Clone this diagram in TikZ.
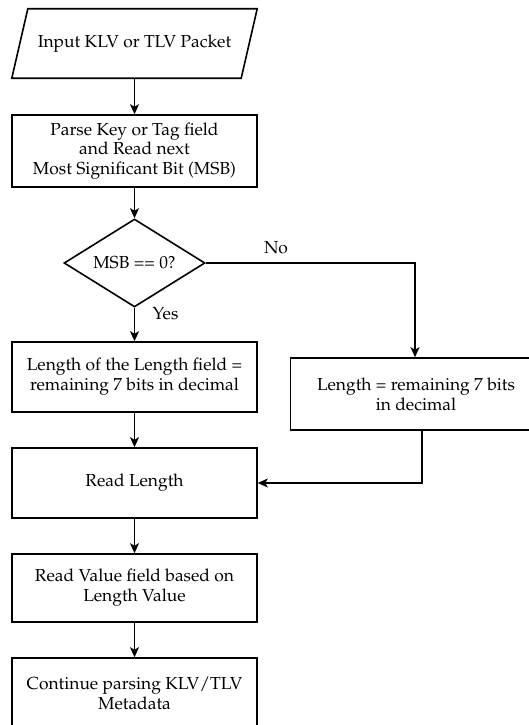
\documentclass[tikz,border=0pt]{standalone}
\IfFileExists{mathpazo.sty}
  {\usepackage[T1]{fontenc}\usepackage{mathpazo}}
  {\usepackage{fontspec}\setmainfont{Liberation Serif}}
\usetikzlibrary{shapes.geometric,arrows.meta,calc}
\begin{document}
\begin{tikzpicture}[x=1pt,y=1pt,
  every node/.style={font=\fontsize{17.4}{19.8}\selectfont},
  procbox/.style={draw,line width=1.6pt,rectangle,minimum width=245,minimum height=70,
    align=center,inner sep=0pt},
  iobox/.style={rectangle,minimum width=229,minimum height=69,align=center,inner sep=0pt},
  decision/.style={draw,line width=1.6pt,diamond,aspect=1.6,minimum width=141,
    minimum height=88,inner sep=0pt},
  flow/.style={line width=1.6pt,-{Stealth[length=10pt,width=9pt,inset=2.5pt]}},
  lbl/.style={inner sep=0pt}]
\useasboundingbox (0,0) rectangle (529,-725);
\clip (0,0) rectangle (529,-725);

% input parallelogram
\node[iobox] (in) at (134.5,-43.5) {Input KLV or TLV Packet};
\draw[line width=1.6pt] ($(in.north west)+(8,0)$) -- ($(in.north east)+(8,0)$)
  -- ($(in.south east)+(-8,0)$) -- ($(in.south west)+(-8,0)$) -- cycle;

\node[procbox,minimum height=72] (parse) at (134.5,-151)
  {Parse Key or Tag field\\and Read next\\Most Significant Bit (MSB)};
\node[decision] (msb) at (134.5,-263) {MSB == 0?};
\node[procbox] (lenlen) at (134.5,-377)
  {Length of the Length field =\\remaining 7 bits in decimal};
\node[procbox,minimum width=251,minimum height=72] (len7) at (416,-394)
  {Length = remaining 7 bits\\in decimal};
\node[procbox] (readlen) at (134.5,-483) {Read Length};
\node[procbox,minimum height=68] (readval) at (134.5,-588)
  {Read Value field based on\\Length Value};
\node[procbox] (cont) at (134.5,-693)
  {Continue parsing KLV/TLV\\Metadata};

% connectors
\draw[flow] (in.south) -- (parse.north);
\draw[flow] (parse.south) -- (msb.north);
\draw[flow] (msb.south) -- (lenlen.north);
\draw[flow] (msb.east) -| (len7.north -| 415,0);
\draw[flow] ([xshift=6]len7.south) |- (readlen.east);
\draw[flow] (lenlen.south) -- (readlen.north);
\draw[flow] (readlen.south) -- (readval.north);
\draw[flow] (readval.south) -- (cont.north);

% branch labels
\node[lbl] (yes) at (165.5,-314) {Yes};
\node[lbl] (no) at (276,-248) {No};
\end{tikzpicture}
\end{document}
